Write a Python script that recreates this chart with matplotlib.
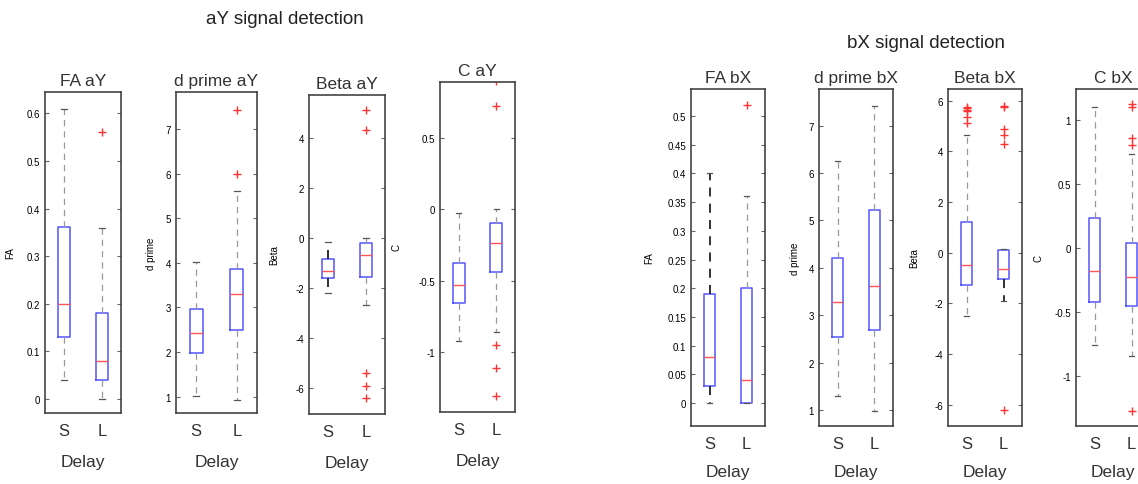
import matplotlib.pyplot as plt
import numpy as np

plt.rcParams.update(
    {
        "font.family": ["Liberation Sans", "DejaVu Sans"],
        "text.color": "#222222",
        "axes.edgecolor": "#444444",
        "axes.linewidth": 1.2,
    }
)

groups = ["S", "L"]

# (whislo, q1, med, q3, whishi, fliers) for S then L
fa_ay = [(0.04, 0.13, 0.20, 0.362, 0.61, []), (0.0, 0.04, 0.08, 0.18, 0.36, [0.56])]
dprime_ay = [(1.02, 1.97, 2.42, 2.97, 4.02, []), (0.93, 2.5, 3.3, 3.87, 5.6, [6.0, 7.43])]
beta_ay = [
    (-2.2, -1.62, -1.33, -0.83, -0.15, []),
    (-2.7, -1.57, -0.7, -0.2, 0.0, [5.1, 4.3, -5.4, -5.9, -6.4]),
]
c_ay = [
    (-0.92, -0.66, -0.53, -0.38, -0.03, []),
    (-0.86, -0.44, -0.24, -0.1, 0.0, [0.9, 0.72, -0.95, -1.11, -1.31]),
]
fa_bx = [(0.0, 0.03, 0.08, 0.19, 0.40, []), (0.0, 0.0, 0.04, 0.20, 0.36, [0.52])]
dprime_bx = [(1.3, 2.55, 3.28, 4.2, 6.25, []), (0.98, 2.7, 3.62, 5.22, 7.42, [])]
beta_bx = [
    (-2.5, -1.28, -0.5, 1.2, 4.65, [5.1, 5.35, 5.6, 5.65, 5.7, 5.75]),
    (-1.9, -1.02, -0.63, 0.12, 0.15, [5.75, 5.8, 4.9, 4.65, 4.3, -6.2]),
]
c_bx = [
    (-0.76, -0.42, -0.18, 0.23, 1.1, []),
    (-0.84, -0.45, -0.23, 0.04, 0.73, [1.1, 1.12, 0.86, 0.8, -1.27]),
]

W, H = 1138, 485

# title, ylabel, data, (left, top, right, bottom) px, ylim, yticks, ylabel x px, dark whisker index, xlabel pad
panels = [
    ("FA aY", "FA", fa_ay, (45, 93, 121, 414), (-0.03, 0.645), np.arange(0, 0.61, 0.1), 15, None, 11.5),
    ("d prime aY", "d prime", dprime_ay, (176, 93, 257, 414), (0.63, 7.83), np.arange(1, 8), 156, None, 11.5),
    ("Beta aY", "Beta", beta_ay, (309, 96, 385, 415), (-7.03, 5.7), np.arange(-6, 5, 2), 279, 0, 11.5),
    ("C aY", "C", c_ay, (440, 83, 515, 413), (-1.42, 0.89), [-1, -0.5, 0, 0.5], 401, None, 11.5),
    ("FA bX", "FA", fa_bx, (691, 90, 765, 427), (-0.04, 0.547), np.arange(0, 0.51, 0.05), 654, 0, 9.5),
    ("d prime bX", "d prime", dprime_bx, (819, 90, 893, 427), (0.67, 7.77), np.arange(1, 8), 800, None, 9.5),
    ("Beta bX", "Beta", beta_bx, (948, 90, 1022, 427), (-6.84, 6.46), np.arange(-6, 7, 2), 919, 1, 9.5),
    ("C bX", "C", c_bx, (1076, 90, 1150, 427), (-1.39, 1.24), [-1, -0.5, 0, 0.5, 1], 1043, None, 9.5),
]

fig = plt.figure(figsize=(W / 100, H / 100), dpi=100)

for title, ylab, data, (l, t, r, b), ylim, yticks, ylx, dark, xpad in panels:
    ax = fig.add_axes([l / W, 1 - b / H, (r - l) / W, (b - t) / H])
    stats = []
    for d in data:
        stats.append(
            {"whislo": d[0], "q1": d[1], "med": d[2], "q3": d[3], "whishi": d[4], "fliers": d[5]}
        )
    res = ax.bxp(
        stats,
        positions=[1, 2],
        widths=0.32,
        capwidths=0.14,
        boxprops=dict(color="#5555ff", linewidth=1.1),
        medianprops=dict(color="#ff5555", linewidth=1.0),
        whiskerprops=dict(color="#999999", linestyle=(0, (5, 4)), linewidth=0.9),
        capprops=dict(color="#555555", linewidth=0.9),
        flierprops=dict(marker="+", markeredgecolor="#ff3333", markersize=6, linestyle="none"),
    )
    if dark is not None:
        for w in res["whiskers"][2 * dark : 2 * dark + 2]:
            w.set_color("#222222")
            w.set_linewidth(1.3)
    ax.set_xlim(0.5, 2.5)
    ax.set_ylim(*ylim)
    ax.set_yticks(yticks)
    ax.set_yticklabels([f"{v:g}" for v in yticks])
    ax.set_xticks([1, 2])
    ax.set_xticklabels(groups, fontsize=12, color="#333333")
    ax.tick_params(axis="x", length=0, pad=7)
    ax.tick_params(axis="y", direction="in", right=True, labelsize=7, length=3, color="#666666")
    ax.set_title(title, fontsize=12.5, pad=5, color="#333333")
    ax.set_xlabel("Delay", fontsize=12.5, labelpad=xpad, color="#333333")
    ax.set_ylabel(ylab, fontsize=7)
    ax.yaxis.set_label_coords(-(l - ylx) / (r - l), 0.5)

fig.text(285 / W, 1 - 19 / H, "aY signal detection", fontsize=13.5, ha="center", va="center")
fig.text(926 / W, 1 - 43 / H, "bX signal detection", fontsize=13.5, ha="center", va="center")

fig.savefig("out.png", dpi=100)
